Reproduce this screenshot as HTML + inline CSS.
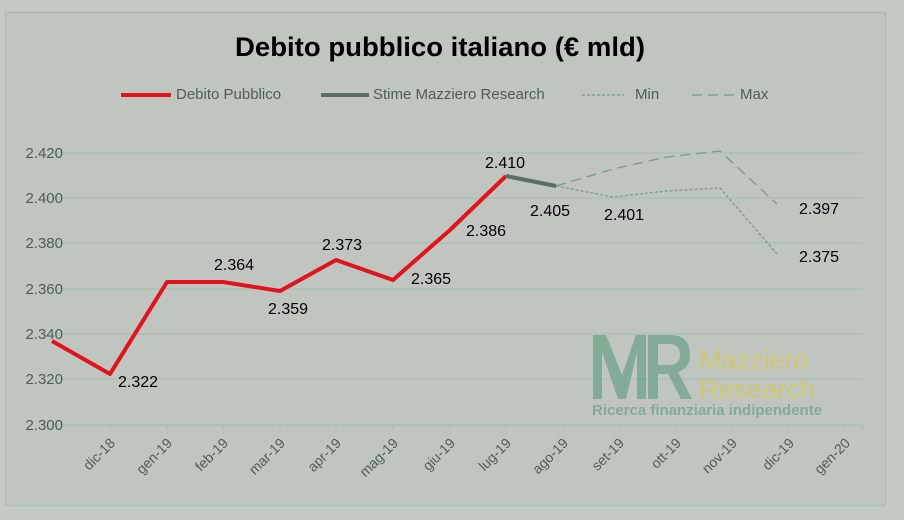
<!DOCTYPE html>
<html><head><meta charset="utf-8"><style>
html,body{margin:0;padding:0;background:#c3c7c2;}
svg{display:block;font-family:"Liberation Sans",sans-serif;}
</style></head><body>
<svg width="904" height="520" viewBox="0 0 904 520">
<rect x="0" y="0" width="904" height="520" fill="#c6cac5"/>
<rect x="5.5" y="12.5" width="880" height="493" fill="#c0c5c0" stroke="#a8c0b3" stroke-width="1.5"/>
<text x="440" y="56" text-anchor="middle" font-size="27" font-weight="bold" fill="#000" textLength="410" lengthAdjust="spacingAndGlyphs">Debito pubblico italiano (€ mld)</text>
<g font-size="15" fill="#4d5f52">
<line x1="121" y1="95" x2="171" y2="95" stroke="#e0141c" stroke-width="4"/>
<text x="176" y="99">Debito Pubblico</text>
<line x1="321" y1="95" x2="369" y2="95" stroke="#5d6e5f" stroke-width="4"/>
<text x="373" y="99">Stime Mazziero Research</text>
<line x1="582" y1="95" x2="624" y2="95" stroke="#7fa08e" stroke-width="1.5" stroke-dasharray="3,2"/>
<text x="635" y="99">Min</text>
<line x1="692" y1="95" x2="738" y2="95" stroke="#7fa08e" stroke-width="1.5" stroke-dasharray="10,6"/>
<text x="740" y="99">Max</text>
</g>
<g stroke="#a6c1b1" stroke-width="1.2">
<line x1="52" y1="153" x2="863" y2="153"/>
<line x1="52" y1="198" x2="863" y2="198"/>
<line x1="52" y1="243" x2="863" y2="243"/>
<line x1="52" y1="289" x2="863" y2="289"/>
<line x1="52" y1="334" x2="863" y2="334"/>
<line x1="52" y1="379" x2="863" y2="379"/>
<line x1="52" y1="425" x2="863" y2="425"/>
</g>
<g stroke="#a6c1b1" stroke-width="1.2">
<line x1="52" y1="425" x2="52" y2="430"/><line x1="110" y1="425" x2="110" y2="430"/><line x1="167" y1="425" x2="167" y2="430"/><line x1="223" y1="425" x2="223" y2="430"/><line x1="280" y1="425" x2="280" y2="430"/><line x1="336" y1="425" x2="336" y2="430"/><line x1="393" y1="425" x2="393" y2="430"/><line x1="450" y1="425" x2="450" y2="430"/><line x1="506" y1="425" x2="506" y2="430"/><line x1="563" y1="425" x2="563" y2="430"/><line x1="619" y1="425" x2="619" y2="430"/><line x1="676" y1="425" x2="676" y2="430"/><line x1="732" y1="425" x2="732" y2="430"/><line x1="789" y1="425" x2="789" y2="430"/><line x1="845" y1="425" x2="845" y2="430"/><line x1="863" y1="425" x2="863" y2="430"/>
</g>
<g font-size="15" fill="#4d5f52" text-anchor="end">
<text x="63" y="158">2.420</text><text x="63" y="203">2.400</text><text x="63" y="248">2.380</text><text x="63" y="294">2.360</text><text x="63" y="339">2.340</text><text x="63" y="384">2.320</text><text x="63" y="430">2.300</text>
</g>
<g font-size="14" fill="#4d5f52" text-anchor="end">
<text transform="translate(116,444) rotate(-45)">dic-18</text>
<text transform="translate(173,444) rotate(-45)">gen-19</text>
<text transform="translate(229,444) rotate(-45)">feb-19</text>
<text transform="translate(286,444) rotate(-45)">mar-19</text>
<text transform="translate(342,444) rotate(-45)">apr-19</text>
<text transform="translate(399,444) rotate(-45)">mag-19</text>
<text transform="translate(456,444) rotate(-45)">giu-19</text>
<text transform="translate(512,444) rotate(-45)">lug-19</text>
<text transform="translate(569,444) rotate(-45)">ago-19</text>
<text transform="translate(625,444) rotate(-45)">set-19</text>
<text transform="translate(682,444) rotate(-45)">ott-19</text>
<text transform="translate(738,444) rotate(-45)">nov-19</text>
<text transform="translate(795,444) rotate(-45)">dic-19</text>
<text transform="translate(851,444) rotate(-45)">gen-20</text>
</g>
<g opacity="0.75">
<path d="M593,399 V335 H606 L622,375 L636,335 H646 V399 H637 V352 L626,399 H618 L602,352 V399 Z" fill="#6fa38a"/>
<path d="M648,399 V335 H672 Q690,336 690,355 Q690,368 678,372 L692,399 H681 L668,374 H658 V399 Z M658,344 V365 H671 Q680,364 680,355 Q680,345 671,344 Z" fill="#6fa38a"/>
<text x="699" y="369" font-size="27" fill="#d2c858">Mazziero</text>
<text x="699" y="398" font-size="27" fill="#d2c858">Research</text>
<text x="592" y="415" font-size="15" font-weight="bold" fill="#6fa38a">Ricerca finanziaria indipendente</text>
</g>
<polyline points="52,341 110,374 167,282 223,282 280,291 336,260 393,280 450,230 506,176" fill="none" stroke="#e0141c" stroke-width="4" stroke-linejoin="round"/>
<polyline points="506,176 556,186" fill="none" stroke="#5d6e5f" stroke-width="4"/>
<polyline points="556,186 613,197 667,191 720,188 777,254" fill="none" stroke="#7fa08e" stroke-width="1.5" stroke-dasharray="3,2"/>
<polyline points="556,186 613,169 667,157 720,151 777,204" fill="none" stroke="#7fa08e" stroke-width="1.5" stroke-dasharray="10,6"/>
<g font-size="16" fill="#000">
<text x="118" y="387">2.322</text>
<text x="214" y="270">2.364</text>
<text x="268" y="314">2.359</text>
<text x="322" y="250">2.373</text>
<text x="411" y="284">2.365</text>
<text x="466" y="236">2.386</text>
<text x="485" y="168">2.410</text>
<text x="530" y="216">2.405</text>
<text x="604" y="220">2.401</text>
<text x="799" y="214">2.397</text>
<text x="799" y="262">2.375</text>
</g>
</svg>
</body></html>
